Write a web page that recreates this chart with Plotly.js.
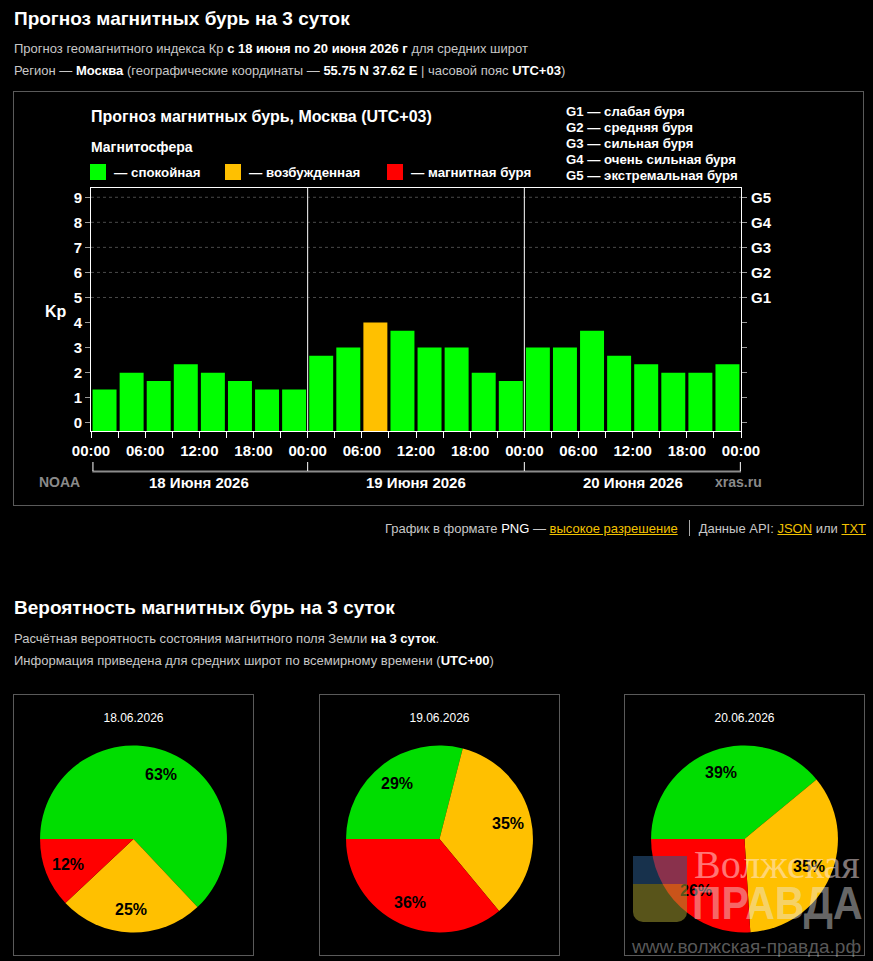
<!DOCTYPE html>
<html><head><meta charset="utf-8">
<script src="https://cdn.plot.ly/plotly-3.0.1.min.js"></script>
<style>
body{margin:0;background:#000;width:873px;height:961px;overflow:hidden;position:relative;font-family:'Liberation Sans',Arial,sans-serif;}
.t{position:absolute;white-space:nowrap;color:#c8c8c8;}
.t b{color:#fff}
.h{color:#fff;font-weight:bold;font-size:19px;line-height:24px}
.p{font-size:13px;line-height:16px}
.t a{color:#f2c200;text-decoration:underline}
.sep{display:inline-block;width:1px;height:16px;background:#aaa;vertical-align:-3px;margin:0 9px 0 11px}
.box{position:absolute;outline:1px solid #5a5a5a}
.wm{position:absolute;white-space:nowrap;pointer-events:none;z-index:5}
</style></head><body>
<div class="t h" style="left:14px;top:7px">Прогноз магнитных бурь на 3 суток</div>
<div class="t p" style="left:14px;top:41px">Прогноз геомагнитного индекса Кр <b>с 18 июня по 20 июня 2026 г</b> для средних широт</div>
<div class="t p" style="left:14px;top:63px">Регион — <b>Москва</b> (географические координаты — <b>55.75 N 37.62 E</b> | часовой пояс <b>UTC+03</b>)</div>
<div id="kp" class="box" style="left:14px;top:92px;width:849px;height:413px"></div>
<div class="t p" style="right:7px;top:520px">График в формате <span style="color:#fff">PNG</span> — <a>высокое разрешение</a><span class="sep"></span>Данные API: <a>JSON</a> или <a>TXT</a></div>
<div class="t h" style="left:14px;top:596px">Вероятность магнитных бурь на 3 суток</div>
<div class="t p" style="left:14px;top:631px">Расчётная вероятность состояния магнитного поля Земли <b>на 3 суток</b>.</div>
<div class="t p" style="left:14px;top:653px">Информация приведена для средних широт по всемирному времени (<b>UTC+00</b>)</div>
<div id="pie0" class="box" style="left:14px;top:695px;width:239px;height:260px"></div>
<div id="pie1" class="box" style="left:320px;top:695px;width:239px;height:260px"></div>
<div id="pie2" class="box" style="left:625px;top:695px;width:239px;height:260px"></div>

<div class="wm" style="left:633px;top:856px;width:54px;height:66px;border-radius:0 0 10px 10px;overflow:hidden;opacity:0.55">
  <div style="height:28px;background:#2a5a8a"></div><div style="height:38px;background:#a09a30"></div>
</div>
<div class="wm" style="left:694px;top:843px;font-family:'Liberation Serif',serif;font-size:40px;line-height:44px;color:rgba(255,235,235,0.5)">Волжская</div>
<div class="wm" style="left:692px;top:878px;font-family:'Liberation Sans',Arial,sans-serif;font-weight:bold;font-size:46px;line-height:50px;color:rgba(235,235,235,0.45);transform:scaleX(0.89);transform-origin:left">ПРАВДА</div>
<div class="wm" style="left:632px;top:935px;font-size:19px;line-height:24px;color:rgba(200,200,200,0.45)">www.волжская-правда.рф</div>

<script>
// ---- data ----
const kpDay18 = [1.33, 2, 1.67, 2.33, 2, 1.67, 1.33, 1.33];
const kpDay19 = [2.67, 3, 4, 3.67, 3, 3, 2, 1.67];
const kpDay20 = [3, 3, 3.67, 2.67, 2.33, 2, 2, 2.33];
const dayLabels = ['18 Июня 2026', '19 Июня 2026', '20 Июня 2026'];
const hourLabels = ['00:00', '06:00', '12:00', '18:00'];
const kpTicks = [0, 1, 2, 3, 4, 5, 6, 7, 8, 9];
const stormLabels = ['G1', 'G2', 'G3', 'G4', 'G5'];
const stormLevels = [5, 6, 7, 8, 9];
const stormNames = ['слабая буря', 'средняя буря', 'сильная буря', 'очень сильная буря', 'экстремальная буря'];
const stateNames = ['спокойная', 'возбужденная', 'магнитная буря'];
const pieDates = ['18.06.2026', '19.06.2026', '20.06.2026'];
const pieQuiet = [63, 29, 39];
const pieActive = [25, 35, 35];
const pieStorm = [12, 36, 26];

// ---- styles ----
const FONT = 'Liberation Sans, Arial, sans-serif';
const barColors = ['#00ff00', '#ffc000', '#ff0000'];
const pieColors = ['#00dd00', '#ffc000', '#ff0000'];
const yMin = -0.33, yMax = 9.37;
const stepH = 3, hoursPerDay = 24;

const kp = [...kpDay18, ...kpDay19, ...kpDay20];
const xs = kp.map((_, i) => i * stepH + stepH / 2);
const cols = kp.map(v => v >= 5 ? barColors[2] : (v >= 4 ? barColors[1] : barColors[0]));
const totalH = dayLabels.length * hoursPerDay;

const tickvals = [], ticktext = [];
for (let h = 0, i = 0; h <= totalH; h += stepH, i++) {
  tickvals.push(h);
  ticktext.push(i % 2 === 0 ? hourLabels[(i / 2) % hourLabels.length] : '');
}

// plot-area geometry (page px) for placing text around the chart
const PL = 91, PT = 188, PW = 650, PH = 243;
const px = x => (x - PL) / PW;
const py = y => (PT + PH - y) / PH;

const ann = [];
const A = (text, x, y, opt) => ann.push(Object.assign({text, x: px(x), y: py(y), xref: 'paper', yref: 'paper',
  showarrow: false, xanchor: 'left', yanchor: 'middle', font: {family: FONT, size: 13.3, color: '#fff'}}, opt || {}));

A('<b>Прогноз магнитных бурь, Москва (UTC+03)</b>', 89, 116, {font: {family: FONT, size: 16, color: '#fff'}});
A('<b>Магнитосфера</b>', 89, 147, {font: {family: FONT, size: 14, color: '#fff'}});
const legX = [90, 225, 387];
const shapes = [];
stateNames.forEach((n, i) => {
  shapes.push({type: 'rect', xref: 'paper', yref: 'paper', x0: px(legX[i]), x1: px(legX[i] + 16), y0: py(180), y1: py(164),
    fillcolor: barColors[i], line: {width: 0}});
  A('<b>— ' + n + '</b>', legX[i] + 22, 172);
});
stormNames.forEach((n, i) => A('<b>' + stormLabels[i] + ' — ' + n + '</b>', 564, 111 + i * 16.1, {font: {family: FONT, size: 13.2, color: '#fff'}}));
A('<b>Kp</b>', 56, 311, {xanchor: 'center', font: {family: FONT, size: 16, color: '#fff'}});
dayLabels.forEach((d, i) => ann.push({text: '<b>' + d + '</b>', x: (i + 0.5) / dayLabels.length, y: py(482), xref: 'paper', yref: 'paper',
  showarrow: false, xanchor: 'center', yanchor: 'middle', font: {family: FONT, size: 15, color: '#fff'}}));
A('<b>NOAA</b>', 59, 482, {xanchor: 'center', font: {family: FONT, size: 14, color: '#8a8a8a'}});
A('<b>xras.ru</b>', 738, 482, {xanchor: 'center', font: {family: FONT, size: 14, color: '#8a8a8a'}});

// storm-level grid lines and right-hand G labels
stormLevels.forEach((lv, i) => {
  shapes.push({type: 'line', xref: 'paper', yref: 'y', x0: 0, x1: 1, y0: lv, y1: lv, layer: 'below',
    line: {color: '#4a4a4a', width: 1, dash: '3px,3px'}});
  ann.push({text: '<b>' + stormLabels[i] + '</b>', xref: 'paper', yref: 'y', x: px(749), y: lv, showarrow: false,
    xanchor: 'left', yanchor: 'middle', font: {family: FONT, size: 15, color: '#fff'}});
});

// day separators
for (let d = 1; d < dayLabels.length; d++) {
  shapes.push({type: 'line', xref: 'x', yref: 'paper', x0: d * hoursPerDay, x1: d * hoursPerDay, y0: 0, y1: 1, line: {color: '#fff', width: 1}});
}
// bracket below the time axis
shapes.push({type: 'line', xref: 'paper', yref: 'paper', x0: 0.002, x1: 1, y0: py(471.5), y1: py(471.5), line: {color: '#8c8c8c', width: 2}});
for (let d = 0; d <= dayLabels.length; d++) {
  const xp = Math.min(0.999, Math.max(0.003, d / dayLabels.length));
  shapes.push({type: 'line', xref: 'paper', yref: 'paper', x0: xp, x1: xp, y0: py(462), y1: py(471), line: {color: '#fff', width: 1}});
}

const tf = {family: FONT, size: 15, color: '#fff', weight: 'bold'};
Plotly.newPlot('kp', [{
  type: 'bar', x: xs, y: kp.map(v => v - yMin), base: yMin, width: stepH * 0.885,
  marker: {color: cols, line: {width: 0}}, hoverinfo: 'skip', customdata: kp
}], {
  width: 849, height: 413, margin: {l: 77, r: 122, t: 96, b: 74},
  paper_bgcolor: '#000', plot_bgcolor: '#000', showlegend: false,
  font: {family: FONT, color: '#fff'},
  xaxis: {range: [0, totalH], tickmode: 'array', tickvals, ticktext, ticks: 'outside', ticklen: 6, tickcolor: '#fff',
    showline: true, linecolor: '#fff', linewidth: 1, mirror: true, showgrid: false, zeroline: false, tickfont: tf, fixedrange: true},
  yaxis: {range: [yMin, yMax], tickmode: 'array', tickvals: kpTicks, ticks: 'outside', ticklen: 5, tickcolor: '#999',
    showline: true, linecolor: '#fff', linewidth: 1, mirror: 'ticks', showgrid: false, zeroline: false, tickfont: tf, fixedrange: true},
  shapes, annotations: ann
}, {staticPlot: true});

// pies: percentages placed along each slice bisector
const PIE_W = 239, PIE_H = 260, PIE_R = 93.5, ROT = 270;
const dom = {x: [0.109, 0.891], y: [0.0865, 0.806]};
pieDates.forEach((d, i) => {
  const vals = [pieQuiet[i], pieActive[i], pieStorm[i]];
  const tot = vals.reduce((a, b) => a + b, 0);
  const yc = (dom.y[0] + dom.y[1]) / 2, rho = 0.75 * PIE_R;
  let cum = 0;
  const pann = vals.map(v => {
    const th = (ROT + (cum + v / 2) / tot * 360) * Math.PI / 180;
    cum += v;
    return {text: '<b>' + v + '%</b>', xref: 'paper', yref: 'paper', showarrow: false,
      x: 0.5 + rho * Math.sin(th) / PIE_W, y: yc + rho * Math.cos(th) / PIE_H,
      xanchor: 'center', yanchor: 'middle', font: {family: FONT, size: 16, color: '#000'}};
  });
  Plotly.newPlot('pie' + i, [{
    type: 'pie', values: vals, labels: stateNames,
    marker: {colors: pieColors, line: {width: 0}}, sort: false, direction: 'clockwise', rotation: ROT,
    textinfo: 'none', hoverinfo: 'skip', domain: dom
  }], {
    width: PIE_W, height: PIE_H, margin: {l: 0, r: 0, t: 0, b: 0}, paper_bgcolor: '#000', showlegend: false,
    title: {text: d, font: {family: FONT, size: 12, color: '#fff'}, x: 0.5, xanchor: 'center', y: 1 - 23 / PIE_H, yanchor: 'middle', yref: 'container'},
    annotations: pann
  }, {staticPlot: true});
});
</script>
</body></html>
